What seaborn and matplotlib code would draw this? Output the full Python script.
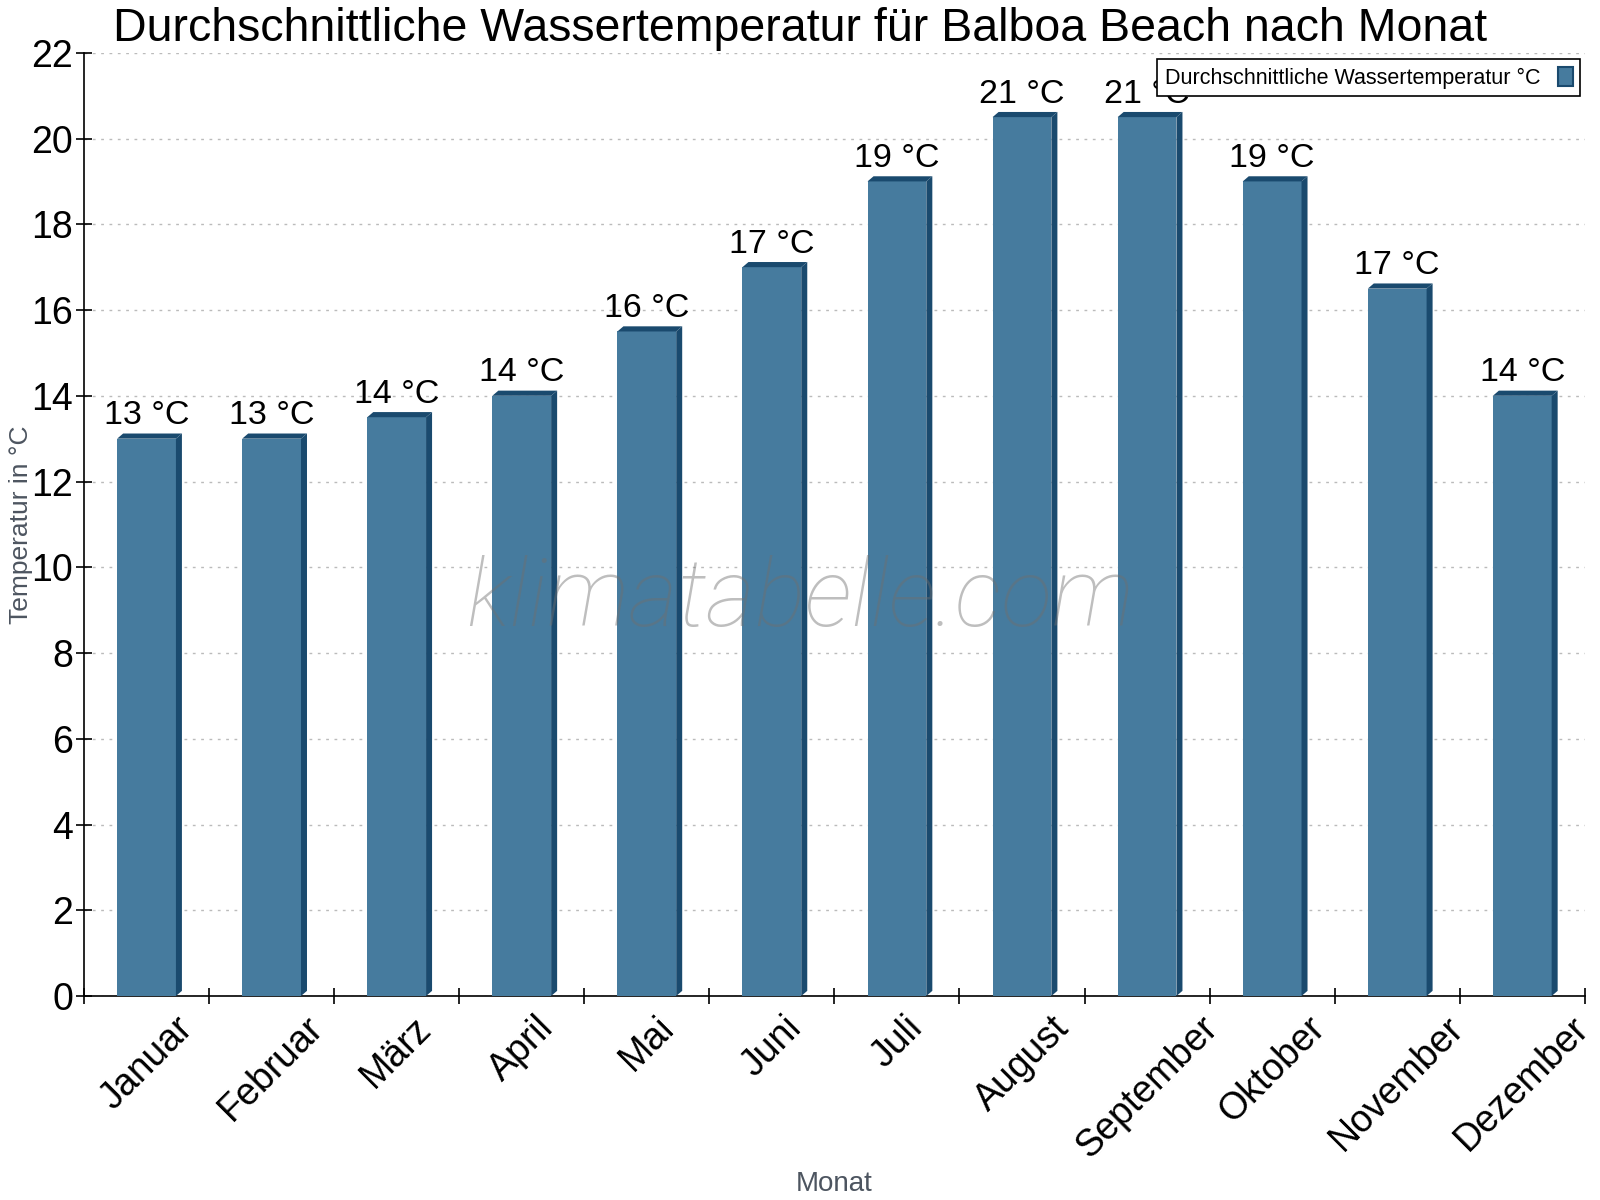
import matplotlib
matplotlib.use("Agg")
import matplotlib.pyplot as plt
import seaborn as sns
import pandas as pd
from matplotlib.patches import Polygon

months = ["Januar", "Februar", "März", "April", "Mai", "Juni", "Juli",
          "August", "September", "Oktober", "November", "Dezember"]
temps = [13, 13, 13.5, 14, 15.5, 17, 19, 20.5, 20.5, 19, 16.5, 14]
labels = ["13 °C", "13 °C", "14 °C", "14 °C", "16 °C", "17 °C", "19 °C",
          "21 °C", "21 °C", "19 °C", "17 °C", "14 °C"]
yticks = [0, 2, 4, 6, 8, 10, 12, 14, 16, 18, 20, 22]
series_name = "Durchschnittliche Wassertemperatur °C"

sns.set_theme(style="white")
plt.rcParams['font.family'] = ['Liberation Sans', 'DejaVu Sans']

df = pd.DataFrame({"Monat": months, "Temp": temps})

fig = plt.figure(figsize=(16, 12), dpi=100)
ax = fig.add_axes([0.0525, 0.17, 0.938, 0.786])

main_col = "#467b9e"
dark_col = "#1a4a6e"

sns.barplot(data=df, x="Monat", y="Temp", color=main_col, width=0.47,
            saturation=1, ax=ax, label=series_name, zorder=3, linewidth=0)

# 3D-like side/top shading derived from the drawn bars
for bar in list(ax.patches):
    x0 = bar.get_x(); w = bar.get_width(); h = bar.get_height()
    dx = 0.048; dy = 0.12
    side = Polygon([[x0 + w, 0], [x0 + w + dx, dy], [x0 + w + dx, h + dy], [x0 + w, h]],
                   closed=True, facecolor=dark_col, edgecolor='none', zorder=3)
    top = Polygon([[x0, h], [x0 + dx, h + dy], [x0 + w + dx, h + dy], [x0 + w, h]],
                  closed=True, facecolor=dark_col, edgecolor='none', zorder=3)
    ax.add_patch(side); ax.add_patch(top)

for i, (v, lab) in enumerate(zip(temps, labels)):
    ax.text(i, v + 0.17, lab, ha='center', va='bottom', fontsize=24.5, color='black', zorder=5)

ax.set_xlim(-0.5, len(months) - 0.5)
ax.set_ylim(0, 22)
ax.set_yticks(yticks)
ax.set_yticklabels([str(t) for t in yticks], fontsize=27)
ax.yaxis.grid(True, linestyle=(0, (2, 4)), color='#bbbbbb', linewidth=1)
ax.set_axisbelow(True)

ax.set_xticks(range(len(months)))
ax.set_xticklabels(months, rotation=45, ha='center', va='top', fontsize=27)
ax.tick_params(axis='x', which='major', length=0, pad=10, bottom=False, labelcolor='black')
# boundary ticks
ax.set_xticks([i - 0.5 for i in range(len(months) + 1)], minor=True)
ax.tick_params(axis='x', which='minor', length=12, direction='inout', width=1.2,
               color='black', bottom=True)
ax.tick_params(axis='y', length=12, direction='inout', width=1.2, color='black',
               left=True, pad=2, labelcolor='black')

for s in ['top', 'right']:
    ax.spines[s].set_visible(False)
for s in ['left', 'bottom']:
    ax.spines[s].set_color('black')
    ax.spines[s].set_linewidth(1.2)

ax.set_xlabel("Monat", fontsize=20, color='#4d5560')
ax.xaxis.set_label_coords(0.5, -0.186)
ax.set_ylabel("Temperatur in °C", fontsize=19, color='#4d5560')
ax.yaxis.set_label_coords(-0.034, 0.5)

fig.suptitle("Durchschnittliche Wassertemperatur für Balboa Beach nach Monat",
             fontsize=33.5, color='black', x=0.5, y=0.994, va='top')

leg = ax.legend(loc='upper right', fontsize=15.5, frameon=True, fancybox=False,
                edgecolor='black', framealpha=1, markerfirst=False,
                handlelength=0.7, handleheight=1.0, borderpad=0.35,
                handletextpad=0.8, borderaxespad=0,
                bbox_to_anchor=(0.997, 0.993))
leg.get_frame().set_linewidth(1.2)
for t in leg.get_texts():
    t.set_color('black')
for h in leg.legend_handles:
    h.set_edgecolor(dark_col)
    h.set_linewidth(1.5)

fig.text(0.5, 0.50, "klimatabelle.com", fontsize=68, color='#6f6f6f', alpha=0.45,
         style='italic', ha='center', va='center', zorder=10,
         family=['Roboto', 'DejaVu Sans'], fontweight='light')

fig.savefig("out.png", dpi=100)
